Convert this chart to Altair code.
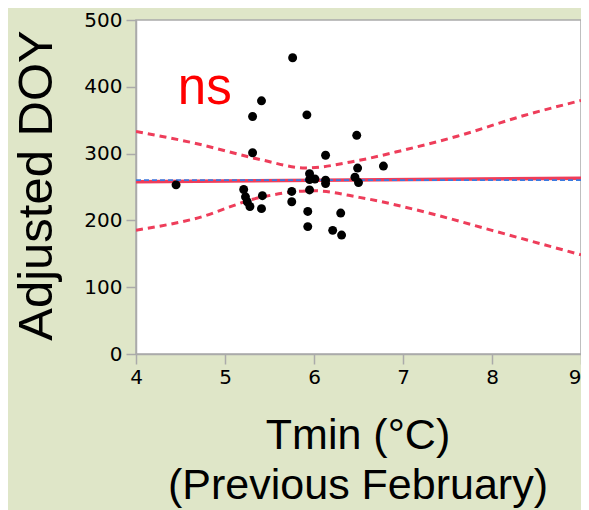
import altair as alt
import pandas as pd

# Scatter points (Tmin, Adjusted DOY)
pt_x = [5.76, 5.41, 5.31, 5.92, 6.48, 5.31, 6.13, 6.78, 6.49, 5.95, 6.01, 5.95,
        6.13, 6.13, 6.46, 6.50, 4.45, 5.21, 5.23, 5.25, 5.28, 5.42, 5.41, 5.75,
        5.75, 5.95, 5.93, 5.93, 6.30, 6.21, 6.31]
pt_y = [443.5, 379, 355.5, 358, 327.4, 301.3, 297.5, 281.3, 278.3, 270, 262, 261,
        260.3, 255.2, 264.7, 256.6, 253.2, 246.3, 235.3, 227.9, 220.8, 237, 217.6, 243.4,
        227.9, 245.6, 213.4, 190.7, 211, 185.1, 178]

# Fitted line and mean line
fit_x = [4.0, 9.0]
fit_y = [258.0, 263.0]
mean_x = [4.0, 9.0]
mean_y = [260.3, 260.3]

# Confidence curves
upper_x = [4.0, 4.66, 5.40, 5.90, 6.51, 7.0, 7.61, 8.36, 9.0]
upper_y = [333.0, 315.6, 291.0, 278.5, 290.0, 305.0, 326.0, 357.0, 379.5]
lower_x = [4.0, 4.66, 5.40, 5.99, 6.51, 7.25, 7.99, 9.0]
lower_y = [185.4, 202.5, 234.5, 244.4, 234.5, 212.4, 185.4, 148.5]

ann_text = ["ns"]
ann_x = [4.47]
ann_y = [374.0]

x_ticks = [4, 5, 6, 7, 8, 9]
y_ticks = [0, 100, 200, 300, 400, 500]

pts = pd.DataFrame({"x": pt_x, "y": pt_y})
fit = pd.DataFrame({"x": fit_x, "y": fit_y})
mean = pd.DataFrame({"x": mean_x, "y": mean_y})
upper = pd.DataFrame({"x": upper_x, "y": upper_y})
lower = pd.DataFrame({"x": lower_x, "y": lower_y})
ann = pd.DataFrame({"x": ann_x, "y": ann_y, "t": ann_text})

GRAY = "#aaaaaa"
RED = "#ee3d5a"

X = alt.X("x:Q", scale=alt.Scale(domain=[4, 9], nice=False, zero=False),
          axis=alt.Axis(values=x_ticks, format="d", grid=False,
                        labelFont="DejaVu Sans", labelFontSize=20, labelColor="black",
                        labelPadding=3, labelFlush=False, labelOverlap=False,
                        labelAlign=alt.ExprRef(expr="datum.value == 9 ? 'right' : 'center'"),
                        tickColor=GRAY, tickSize=10, tickWidth=1.5,
                        domainColor=GRAY, domainWidth=1.5,
                        title=["Tmin (°C)", "(Previous February)"],
                        titleFont="Liberation Sans", titleFontSize=43,
                        titleFontWeight="normal", titleColor="black",
                        titleLineHeight=50, titleX=221.5, titleY=94,
                        titleAlign="center", titleBaseline="alphabetic"))
Y = alt.Y("y:Q", scale=alt.Scale(domain=[0, 500], nice=False),
          axis=alt.Axis(values=y_ticks, format="d", grid=False,
                        labelFont="DejaVu Sans", labelFontSize=20, labelColor="black",
                        labelPadding=4, labelFlush=False, labelOverlap=False,
                        tickColor=GRAY, tickSize=10, tickWidth=1.5,
                        domainColor=GRAY, domainWidth=1.5,
                        title="Adjusted DOY",
                        titleFont="Liberation Sans", titleFontSize=49,
                        titleFontWeight="normal", titleColor="black",
                        titleX=-85, titleY=165, titleAngle=270,
                        titleAlign="center", titleBaseline="alphabetic"))

up_layer = alt.Chart(upper).mark_line(color=RED, strokeWidth=3, strokeDash=[7, 5],
                                      interpolate="monotone", clip=True).encode(x=X, y=Y)
lo_layer = alt.Chart(lower).mark_line(color=RED, strokeWidth=3, strokeDash=[7, 5],
                                      interpolate="monotone", clip=True).encode(x=X, y=Y)
fit_layer = alt.Chart(fit).mark_line(color=RED, strokeWidth=3.5, clip=True).encode(x=X, y=Y)
mean_layer = alt.Chart(mean).mark_line(color="#3a7be0", strokeWidth=1.8, strokeDash=[5, 3],
                                       clip=True).encode(x=X, y=Y)
pt_layer = alt.Chart(pts).mark_circle(color="black", size=80, opacity=1).encode(x=X, y=Y)
txt_layer = alt.Chart(ann).mark_text(color="#ff0000", font="Liberation Sans", fontSize=51,
                                     align="left", baseline="alphabetic").encode(
    x=X, y=Y, text="t:N")

chart = alt.layer(up_layer, lo_layer, fit_layer, mean_layer, pt_layer, txt_layer).properties(
    width=445, height=334,
    background="#dfe6c8",
    padding={"left": 128, "top": 12, "right": 0, "bottom": 156},
    autosize=alt.AutoSizeParams(type="none"),
).configure_view(stroke=GRAY, strokeWidth=1.5, fill="white")

chart.save("out.html", embed_options={"renderer": "svg", "actions": False})
